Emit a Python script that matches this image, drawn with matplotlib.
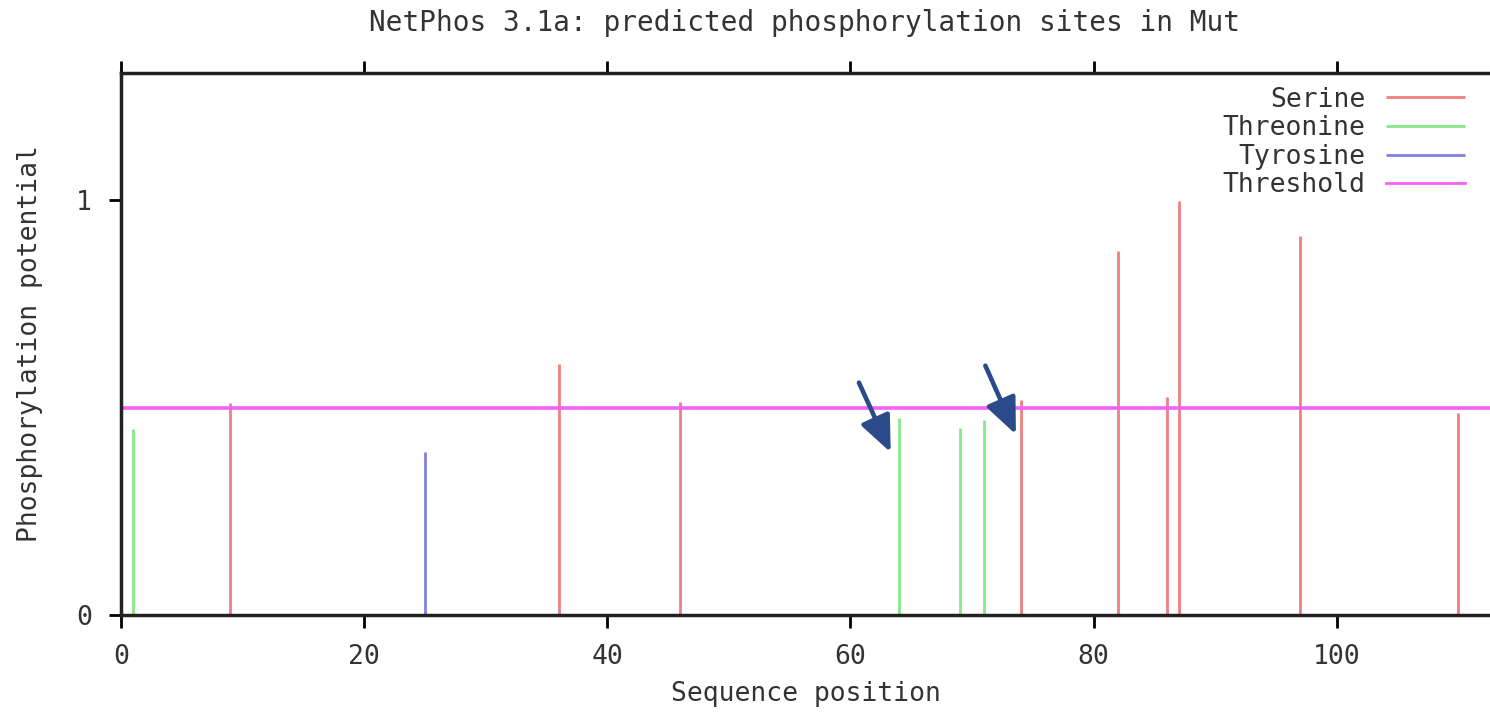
import matplotlib
matplotlib.use("Agg")
import matplotlib.pyplot as plt

# data
serine_pos = [9, 36, 46, 74, 82, 86, 87, 97, 110]
serine_score = [0.511, 0.605, 0.513, 0.518, 0.877, 0.525, 0.998, 0.913, 0.487]
threonine_pos = [1, 64, 69, 71]
threonine_score = [0.448, 0.475, 0.450, 0.470]
tyrosine_pos = [25]
tyrosine_score = [0.393]
threshold = 0.5

# arrow annotations (tail, head) in data units
arrows = [((60.6, 0.566), (63.4, 0.386)),
          ((71.0, 0.607), (73.7, 0.429))]

x_ticks = [0, 20, 40, 60, 80, 100]
y_ticks = [0, 1]

plt.rcParams['font.family'] = ['DejaVu Sans Mono']
txt = '#333333'
fs = 19

fig = plt.figure(figsize=(14.9, 7.12), dpi=100)
ax = fig.add_axes([0.0812, 0.1362, 0.9188, 0.7613])

ax.vlines(serine_pos, 0, serine_score, color='#ee8080', lw=2, label='Serine')
ax.vlines(threonine_pos, 0, threonine_score, color='#88e888', lw=2, label='Threonine')
ax.vlines(tyrosine_pos, 0, tyrosine_score, color='#8080e0', lw=2, label='Tyrosine')
ax.axhline(threshold, color='#f560f5', lw=2.6, label='Threshold')

for tail, head in arrows:
    ax.annotate('', xy=head, xytext=tail,
                arrowprops=dict(arrowstyle='-|>,head_length=2.2,head_width=0.95',
                                color='#2b4a8a', lw=3.3))

ax.set_xlim(0, 112.6)
ax.set_ylim(0, 1.306)
ax.set_xticks(x_ticks)
ax.set_yticks(y_ticks)
ax.tick_params(axis='x', direction='out', length=9, width=2, top=True,
               labelsize=fs, labelcolor=txt, pad=12)
ax.tick_params(axis='y', direction='out', length=9, width=2,
               labelsize=fs, labelcolor=txt, pad=12)

for s in ['left', 'bottom', 'top']:
    ax.spines[s].set_linewidth(2.5)
    ax.spines[s].set_color('#222222')
ax.spines['right'].set_visible(False)

ax.set_xlabel('Sequence position', fontsize=fs, color=txt, labelpad=8)
ax.set_ylabel('Phosphorylation potential', fontsize=fs, color=txt, labelpad=24)
fig.text(0.54, 0.968, 'NetPhos 3.1a: predicted phosphorylation sites in Mut',
         ha='center', va='center', fontsize=20, color=txt)

leg = ax.legend(loc='upper right', frameon=False, markerfirst=False,
                fontsize=fs, handlelength=3.0, handletextpad=0.8,
                labelspacing=0.1, borderaxespad=0, borderpad=0,
                bbox_to_anchor=(0.982, 0.975))
for t in leg.get_texts():
    t.set_color(txt)
for h in leg.get_lines():
    h.set_linewidth(2)

fig.savefig('out.png', dpi=100)
